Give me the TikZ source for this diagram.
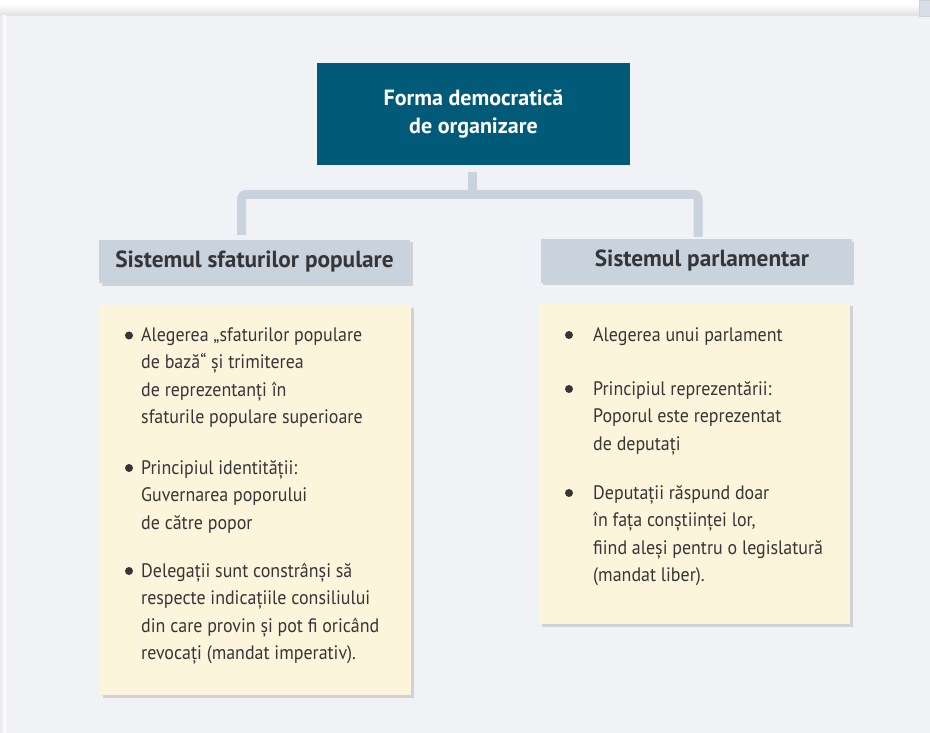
\documentclass[tikz,border=0pt]{standalone}
\usepackage{fontspec}
\setmainfont{PT Sans}
\newfontfamily\bodyfont{PT Sans}[FakeStretch=0.92]
\usetikzlibrary{shadows}
\definecolor{panel}{HTML}{F1F2F6}
\definecolor{tealbox}{HTML}{015A78}
\definecolor{conncol}{HTML}{C9D3DE}
\definecolor{hdr}{HTML}{C8D3DE}
\definecolor{cream}{HTML}{FDF4DC}
\definecolor{ink}{HTML}{363537}
\definecolor{scrollc}{HTML}{D9DDE8}
\tikzset{
  softshadow/.style={drop shadow={shadow xshift=2.5pt, shadow yshift=-2.5pt, fill=black, opacity=0.13}},
  topbox/.style={rectangle, fill=tealbox, minimum width=313pt, minimum height=102pt, inner sep=0pt,
    text=white, font=\fontsize{22}{27.3}\selectfont\bfseries, align=center},
  hdrbox/.style={rectangle, fill=hdr, minimum width=311pt, minimum height=43pt, inner sep=0pt,
    text=ink, font=\fontsize{23.3}{26}\selectfont\bfseries, softshadow},
  contentbox/.style={rectangle, fill=cream, inner sep=0pt, softshadow},
  body/.style={anchor=base west, inner sep=0pt, text=ink, font=\bodyfont\fontsize{19.5}{21}\selectfont},
  bulletdot/.style={circle, fill=ink, minimum size=8pt, inner sep=0pt},
  conn/.style={draw=conncol, line width=9pt, line cap=butt, line join=round}
}
\begin{document}
\begin{tikzpicture}[x=1pt,y=-1pt]
\useasboundingbox (0,0) rectangle (930,733);
% page background
\fill[white] (0,0) rectangle (930,733);
\shade[top color=white, bottom color=black!12] (0,4) rectangle (930,16);
\shade[left color=black!8, right color=white] (0,16) rectangle (6,733);
\fill[panel] (6,16) rectangle (930,733);
\filldraw[fill=scrollc, draw=black!18, line width=0.5pt] (919.5,0) rectangle (930,16);

% top box
\node[topbox] (top) at (473.5,114) {Forma democratică\\de organizare};

% header boxes
\node[hdrbox] (hl) at (254.5,261.5) {Sistemul sfaturilor populare};
\node[hdrbox] (hr) at (696,261) {\hspace{12pt}Sistemul parlamentar};

% connectors
\coordinate (stubtop) at (472.5,172);
\coordinate (bar) at (472.5,194.5);
\coordinate (cl) at (241.5,235);
\coordinate (cr) at (698,237);
\draw[conn] (stubtop) -- (bar);
\draw[conn, rounded corners=4pt] (cl) -- (cl |- bar) -- (cr |- bar) -- (cr);

% content boxes
\node[contentbox, minimum width=311pt, minimum height=390pt, anchor=north west] (bl) at (100,305) {};
\node[contentbox, minimum width=311pt, minimum height=321pt, anchor=north west] (br) at (539,303) {};

% left bullets
\node[bulletdot] (dl1) at (129,335.5) {};
\node[bulletdot] (dl2) at (129,468) {};
\node[bulletdot] (dl3) at (129,571) {};
\foreach \yy/\t [count=\i] in {
  341/{Alegerea „sfaturilor populare},
  368.5/{de bază“ și trimiterea},
  396/{de reprezentanți în},
  423.5/{sfaturile populare superioare},
  474/{Principiul identității:},
  501.5/{Guvernarea poporului},
  529/{de către popor},
  577/{Delegații sunt constrânși să},
  604.5/{respecte indicațiile consiliului},
  632/{din care provin și pot fi oricând},
  659.5/{revocați (mandat imperativ).}}
  \node[body] (tl\i) at (141,\yy) {\t};

% right bullets
\node[bulletdot] (dr1) at (569,335) {};
\node[bulletdot] (dr2) at (569,389) {};
\node[bulletdot] (dr3) at (569,493) {};
\foreach \yy/\t [count=\i] in {
  341/{Alegerea unui parlament},
  395/{Principiul reprezentării:},
  422.5/{Poporul este reprezentat},
  450/{de deputați},
  499/{Deputații răspund doar},
  526.5/{în fața conștiinței lor,},
  554/{fiind aleși pentru o legislatură},
  581.5/{(mandat liber).}}
  \node[body] (tr\i) at (593,\yy) {\t};
\end{tikzpicture}
\end{document}
